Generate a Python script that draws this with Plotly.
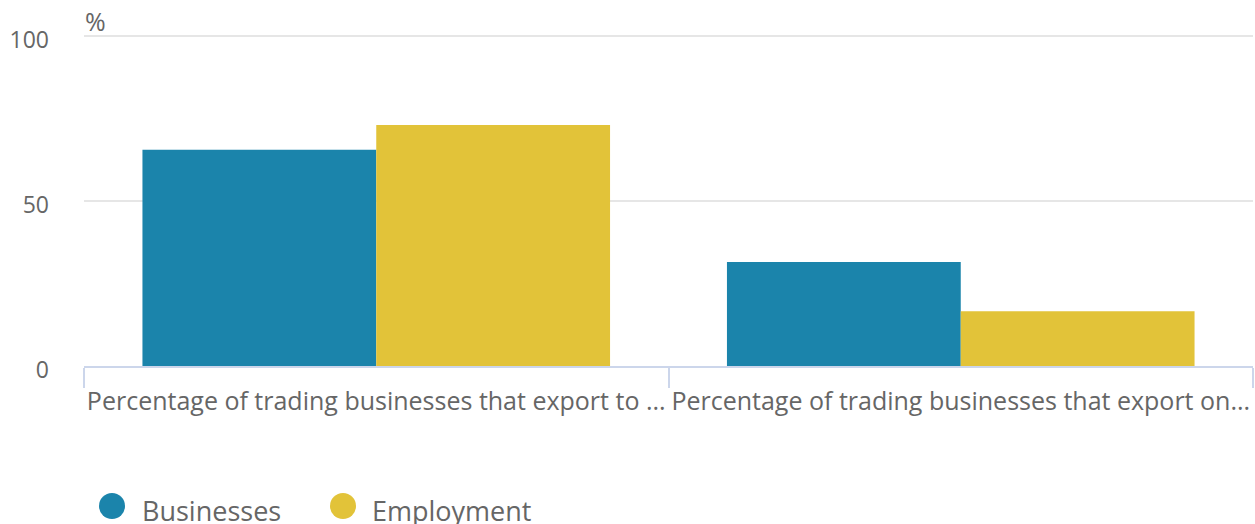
import plotly.graph_objects as go

categories = [
    "Percentage of trading businesses that export to ...",
    "Percentage of trading businesses that export on...",
]
series_names = ["Businesses", "Employment"]
businesses = [65.5, 31.5]
employment = [73.0, 16.6]
y_ticks = [0, 50, 100]

blue = "#1b84ab"
yellow = "#e2c339"
colors = [blue, yellow]
text_color = "#666666"
font_family = "Open Sans"

W, H = 1255, 524
L, R, T, B = 84, 2, 34, 158
plot_w = W - L - R
plot_h = H - T - B


def px_to_paper(px, py):
    return (px - L) / plot_w, (H - B - py) / plot_h


fig = go.Figure()
for name, vals, col in zip(series_names, [businesses, employment], colors):
    fig.add_trace(go.Bar(x=categories, y=vals, name=name,
                         marker=dict(color=col, line=dict(width=0)), showlegend=False))

# bottom legend: circle swatches with labels
shapes = []
annotations = []
legend_items = [(99, 140), (330, 370)]
for (cx_left, tx), name, col in zip(legend_items, series_names, colors):
    x0, y0 = px_to_paper(cx_left, 519)
    x1, y1 = px_to_paper(cx_left + 26, 493)
    shapes.append(dict(type="circle", xref="paper", yref="paper", x0=x0, x1=x1, y0=y0, y1=y1,
                       fillcolor=col, line=dict(width=0)))
    ax, ay = px_to_paper(tx, 510)
    annotations.append(dict(text=name, xref="paper", yref="paper", x=ax, y=ay,
                            xanchor="left", yanchor="middle", showarrow=False,
                            font=dict(size=27, color=text_color)))

# axis unit label
ux, uy = px_to_paper(83, 21)
annotations.append(dict(text="%", xref="paper", yref="paper", x=ux, y=uy,
                        xanchor="left", yanchor="middle", showarrow=False,
                        font=dict(size=25, color=text_color)))

y_top = plot_h / 3.3

fig.update_layout(
    width=W, height=H,
    margin=dict(l=L, r=R, t=T, b=B, autoexpand=False),
    paper_bgcolor="white", plot_bgcolor="white",
    font=dict(family=font_family, color=text_color, size=22),
    barmode="group", bargap=0.2, bargroupgap=0,
    showlegend=False,
    xaxis=dict(showline=True, linecolor="#ccd6eb", linewidth=2,
               ticks="outside", tickson="boundaries", ticklen=20, tickcolor="#ccd6eb",
               tickwidth=2, showgrid=False, ticklabelstandoff=12, tickangle=0,
               tickfont=dict(size=25, color=text_color)),
    yaxis=dict(range=[0, y_top], tickvals=y_ticks, showgrid=True, gridcolor="#e6e6e6",
               gridwidth=2, zeroline=False, showline=False,
               ticklabelstandoff=34, ticklabelshift=4,
               tickfont=dict(size=23, color=text_color)),
    shapes=shapes,
    annotations=annotations,
)

fig.write_html("out.html")
